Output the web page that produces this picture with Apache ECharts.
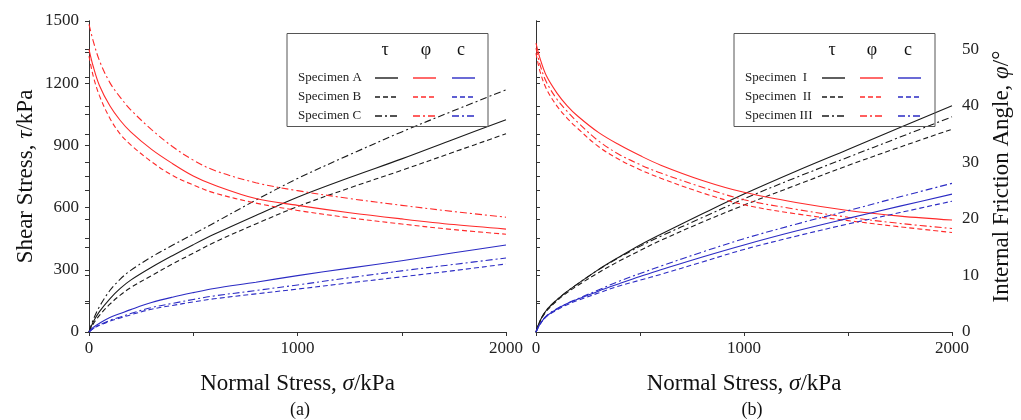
<!DOCTYPE html>
<html><head><meta charset="utf-8">
<script src="https://cdn.jsdelivr.net/npm/echarts@6/dist/echarts.min.js"></script>
<style>html,body{margin:0;padding:0;background:#fff}#c{width:1021px;height:420px}</style>
</head><body><div id="c"></div>
<script>
// Normal stress sample points (kPa)
const sigma = [0, 20, 50, 100, 150, 200, 300, 400, 500, 600, 800, 1000, 1250, 1500, 1750, 2000];
// Panel (a): shear stress tau (kPa), friction angle phi (deg), cohesion c (kPa)
const tauA = [0, 48, 98, 160, 210, 250, 312, 368, 421, 471, 562, 650, 745, 835, 930, 1024];
const tauB = [0, 38, 80, 134, 178, 214, 272, 328, 380, 432, 521, 605, 695, 780, 868, 956];
const tauC = [0, 58, 122, 200, 255, 297, 362, 418, 472, 526, 636, 740, 855, 965, 1068, 1168];
const phiA = [50.0, 47.0, 43.6, 40.0, 37.4, 35.4, 32.3, 29.8, 27.6, 26.0, 23.6, 22.4, 21.1, 20.0, 19.0, 18.2];
const phiB = [48.8, 45.3, 41.8, 37.8, 35.0, 33.1, 30.1, 27.7, 26.0, 24.6, 22.8, 21.5, 20.2, 19.1, 18.1, 17.3];
const phiC = [54.4, 51.5, 48.0, 44.1, 41.5, 39.3, 35.8, 32.8, 30.4, 28.6, 26.4, 25.0, 23.6, 22.4, 21.3, 20.3];
const cA = [0, 22, 42, 70, 89, 108, 142, 168, 190, 210, 240, 272, 308, 344, 382, 420];
const cB = [0, 16, 32, 52, 68, 83, 110, 128, 145, 160, 184, 207, 237, 266, 296, 328];
const cC = [0, 17, 34, 56, 72, 89, 118, 138, 157, 174, 200, 227, 262, 295, 326, 357];
// Panel (b)
const tauI = [0, 55, 105, 155, 196, 232, 301, 362, 420, 472, 570, 665, 775, 880, 986, 1091];
const tauII = [0, 52, 100, 150, 190, 224, 286, 342, 393, 442, 530, 612, 708, 803, 892, 978];
const tauIII = [0, 55, 105, 155, 196, 232, 300, 360, 413, 462, 552, 642, 745, 843, 940, 1038];
const phiI = [51.1, 48.3, 45.3, 42.3, 40.0, 38.2, 35.3, 33.1, 31.2, 29.5, 26.8, 24.7, 22.9, 21.5, 20.5, 19.8];
const phiII = [49.3, 46.0, 43.0, 40.0, 37.8, 36.0, 32.8, 30.5, 28.7, 27.2, 24.6, 22.5, 20.9, 19.7, 18.6, 17.6];
const phiIII = [50.2, 47.2, 44.2, 41.2, 39.0, 37.1, 33.8, 31.4, 29.6, 28.1, 25.6, 23.4, 21.7, 20.3, 19.2, 18.3];
const cI = [0, 40, 76, 110, 137, 158, 197, 233, 268, 300, 362, 420, 487, 548, 607, 665];
const cII = [0, 38, 74, 106, 132, 152, 188, 222, 250, 278, 338, 398, 462, 521, 576, 631];
const cIII = [0, 40, 78, 112, 138, 160, 203, 245, 282, 318, 386, 450, 520, 585, 652, 717];
// Axis / label texts
const legendNamesA = ['Specimen A', 'Specimen B', 'Specimen C'];
const legendNamesB = ['Specimen  I', 'Specimen  II', 'Specimen III'];
const headers = ['τ', 'φ', 'c'];

const FONT = 'Liberation Serif';
const BLACK = '#1a1a1a', RED = '#ff2a2a', BLUE = '#2b2bc4';
const DASHES = ['solid', [5, 3], [7, 3, 2, 3]];
const zip = a => sigma.map((s, i) => [s, a[i]]);

function mkSeries(data, color, dash, xi, yi) {
  return {type: 'line', data: zip(data), xAxisIndex: xi, yAxisIndex: yi, symbol: 'none',
    smooth: 0.35, silent: true,
    lineStyle: {color: color, width: 1.1, type: dash}};
}
const series = [];
[[tauA, tauB, tauC], [tauI, tauII, tauIII]].forEach((g, p) => g.forEach((d, k) => series.push(mkSeries(d, BLACK, DASHES[k], p * 2, p * 2))));
[[phiA, phiB, phiC], [phiI, phiII, phiIII]].forEach((g, p) => g.forEach((d, k) => series.push(mkSeries(d, RED, DASHES[k], p * 2, p * 2 + 1))));
[[cA, cB, cC], [cI, cII, cIII]].forEach((g, p) => g.forEach((d, k) => series.push(mkSeries(d, BLUE, DASHES[k], p * 2, p * 2))));

const axLine = {lineStyle: {color: '#333', width: 1}};
const lab = {fontFamily: FONT, fontSize: 17, color: '#222'};
function xAxes(gi) {
  return [
    {type: 'value', gridIndex: gi, min: 0, max: 2000, interval: 500, position: 'bottom',
      axisLine: axLine, axisTick: {inside: false, length: 4, lineStyle: {color: '#333'}},
      axisLabel: Object.assign({margin: 8, formatter: v => v % 1000 === 0 ? String(v) : ''}, lab),
      splitLine: {show: false},
      name: '{n|Normal Stress, }{i|σ}{n|/kPa}', nameLocation: 'middle', nameGap: 40,
      nameTextStyle: {rich: {n: {fontFamily: FONT, fontSize: 23, color: '#111'}, i: {fontFamily: FONT, fontStyle: 'italic', fontSize: 23, color: '#111'}}}},
    {type: 'value', gridIndex: gi, min: 0, max: 2000, interval: 500, position: 'top',
      axisLine: axLine, axisTick: {inside: true, length: 4, lineStyle: {color: '#333'}},
      axisLabel: {show: false}, splitLine: {show: false}}
  ];
}
const option = {
  animation: false,
  backgroundColor: '#fff',
  grid: [
    {left: 89, top: 21, width: 417, height: 311},
    {left: 536, top: 21, width: 416, height: 311}
  ],
  xAxis: xAxes(0).concat(xAxes(1)),
  yAxis: [
    {type: 'value', gridIndex: 0, min: 0, max: 1500, interval: 150, position: 'left',
      axisLine: axLine, axisTick: {inside: false, length: 4, lineStyle: {color: '#333'}},
      axisLabel: Object.assign({margin: 10, formatter: v => v % 300 === 0 ? String(v) : ''}, lab),
      splitLine: {show: false},
      name: '{n|Shear Stress, }{i|τ}{n|/kPa}', nameLocation: 'middle', nameGap: 52,
      nameTextStyle: {rich: {n: {fontFamily: FONT, fontSize: 23, color: '#111'}, i: {fontFamily: FONT, fontStyle: 'italic', fontSize: 23, color: '#111'}}}},
    {type: 'value', gridIndex: 0, min: 0, max: 55, interval: 5, position: 'right',
      axisLine: axLine, axisTick: {inside: true, length: 4, lineStyle: {color: '#333'}},
      axisLabel: {show: false}, splitLine: {show: false}},
    {type: 'value', gridIndex: 1, min: 0, max: 1500, interval: 150, position: 'left',
      axisLine: axLine, axisTick: {inside: true, length: 4, lineStyle: {color: '#333'}},
      axisLabel: {show: false}, splitLine: {show: false}},
    {type: 'value', gridIndex: 1, min: 0, max: 55, interval: 5, position: 'right',
      axisLine: axLine, axisTick: {inside: false, length: 4, lineStyle: {color: '#333'}},
      axisLabel: Object.assign({margin: 10, formatter: v => v % 10 === 0 ? String(v) : ''}, lab),
      splitLine: {show: false},
      name: '{n|Internal Friction Angle, }{i|φ}{n|/°}', nameLocation: 'middle', nameGap: 38,
      nameTextStyle: {rich: {n: {fontFamily: FONT, fontSize: 23, color: '#111'}, i: {fontFamily: FONT, fontStyle: 'italic', fontSize: 23, color: '#111'}}}}
  ],
  series: series,
  graphic: []
};

function legend(x0, names, tx, lx, hx) {
  const els = [];
  els.push({type: 'rect', shape: {x: x0, y: 33.5, width: 201, height: 93}, style: {fill: 'none', stroke: '#555', lineWidth: 1}, z: 100});
  headers.forEach((h, k) => els.push({type: 'text', x: hx[k], y: 50, z: 100,
    style: {text: h, font: '18px "' + FONT + '"', fill: '#111', align: 'center', verticalAlign: 'middle'}}));
  const colors = [BLACK, RED, BLUE];
  names.forEach((n, r) => {
    const y = 78 + r * 19;
    els.push({type: 'text', x: tx, y: y, z: 100,
      style: {text: n, font: '13px "' + FONT + '"', fill: '#222', align: 'left', verticalAlign: 'middle'}});
    colors.forEach((c, k) => {
      const dash = DASHES[r] === 'solid' ? null : DASHES[r];
      els.push({type: 'line', z: 100, shape: {x1: lx[k], y1: y, x2: lx[k] + 23, y2: y},
        style: {stroke: c, lineWidth: 1.4, lineDash: dash}});
    });
  });
  return els;
}
option.graphic = option.graphic
  .concat(legend(287, legendNamesA, 298, [375, 413, 452], [385, 426, 461]))
  .concat(legend(734, legendNamesB, 745, [822, 860, 898], [832, 872, 908]))
  .concat([
    {type: 'text', x: 300, y: 410, style: {text: '(a)', font: '18px "' + FONT + '"', fill: '#111', align: 'center', verticalAlign: 'middle'}},
    {type: 'text', x: 752, y: 410, style: {text: '(b)', font: '18px "' + FONT + '"', fill: '#111', align: 'center', verticalAlign: 'middle'}}
  ]);

const chart = echarts.init(document.getElementById('c'), null, {renderer: 'canvas'});
chart.setOption(option);
</script></body></html>
